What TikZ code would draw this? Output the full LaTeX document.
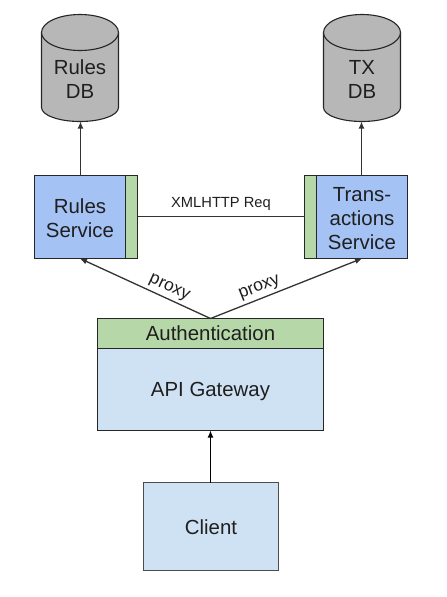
\documentclass[tikz,border=0pt]{standalone}
\usepackage{fontspec}
\setmainfont{Liberation Sans}
\usetikzlibrary{arrows.meta}
\definecolor{dbgray}{HTML}{B7B7B7}
\definecolor{svcblue}{HTML}{A4C2F4}
\definecolor{gwblue}{HTML}{CFE2F3}
\definecolor{authgreen}{HTML}{B6D7A8}
\definecolor{linedark}{HTML}{333333}
\newcommand{\nudge}[1]{\rule{0pt}{#1pt}}
\newcommand{\dbcan}[1]{%
  \draw[dbline, shift={(#1.north west)}] (0,18) -- (0,93)
    arc[start angle=180, end angle=360, x radius=38.5pt, y radius=14pt] -- (77,18)
    arc[start angle=0, end angle=180, x radius=38.5pt, y radius=18pt] -- cycle;
  \draw[dbline, shift={(#1.north west)}] (0,18)
    arc[start angle=180, end angle=360, x radius=38.5pt, y radius=18pt];
}
\tikzset{
  boxtext/.style={font=\fontsize{20.4}{24}\selectfont, align=center, text=black!88},
  box/.style={boxtext, draw=black!85, line width=1.1pt, inner sep=0pt, outer sep=0pt},
  dbnode/.style={inner sep=0pt, outer sep=0pt, minimum width=77pt, minimum height=107pt},
  dbline/.style={draw=black!85, line width=1.1pt, fill=dbgray},
  svcbox/.style={box, fill=svcblue, minimum width=91pt, minimum height=83pt},
  strip/.style={box, fill=authgreen, minimum width=12pt, minimum height=83pt},
  arrow/.style={draw=linedark, line width=1.3pt, -{Latex[length=7pt,width=6pt]}},
  link/.style={draw=linedark, line width=1.3pt},
  proxylabel/.style={font=\fontsize{17.5}{18}\selectfont, text=black!88, inner sep=3pt}
}
\begin{document}
\begin{tikzpicture}[x=1pt,y=-1pt]
  \useasboundingbox (0,0) rectangle (447,597);
  \begin{scope}[shift={(0.5,0.5)}]
  % databases
  \node[dbnode] (rulesdb) at (79.5,67.5) {};
  \dbcan{rulesdb}
  \node[boxtext] (rulesdbtext) at (79.5,79) {Rules\\DB};
  \node[dbnode] (txdb) at (361.5,67.5) {};
  \dbcan{txdb}
  \node[boxtext] (txdbtext) at (361.5,79) {TX\\DB};
  % services
  \node[svcbox] (rules) at (79.5,216.5) {\nudge{17}Rules\\Service};
  \node[strip] (rulesstrip) at (131,216.5) {};
  \node[svcbox] (tx) at (361.5,216.5) {\nudge{17}Trans-\\actions\\Service};
  \node[strip] (txstrip) at (310,216.5) {};
  % gateway
  \node[box, fill=authgreen, minimum width=226pt, minimum height=30pt] (auth) at (210,333) {Authentication};
  \node[box, fill=gwblue, minimum width=226pt, minimum height=82pt] (gateway) at (210,389) {\nudge{19}API Gateway};
  \node[box, fill=gwblue, draw=black!70, minimum width=135pt, minimum height=88pt] (client) at (210.5,526) {\nudge{17}Client};
  % connectors
  \draw[arrow] ([xshift=.5pt]rules.north) -- ([xshift=.5pt]rulesdb.south);
  \draw[arrow] ([xshift=-.5pt]tx.north) -- ([xshift=-.5pt]txdb.south);
  \draw[link] ([yshift=.5pt]rulesstrip.east) -- node[midway, above=3pt, font=\fontsize{14.7}{16}\selectfont, text=black!88, inner sep=2pt] (xmlreq) {XMLHTTP Req} ([yshift=.5pt]txstrip.west);
  \draw[arrow] (auth.north) -- node[pos=0.35, above, sloped, proxylabel] (proxyleft) {proxy} (rules.south);
  \draw[arrow] (auth.north) -- node[pos=0.35, above, sloped, proxylabel] (proxyright) {proxy} (tx.south);
  \draw[arrow, draw=black, line width=1.2pt] (gateway.south |- client.north) -- (gateway.south);
  \end{scope}
\end{tikzpicture}
\end{document}
